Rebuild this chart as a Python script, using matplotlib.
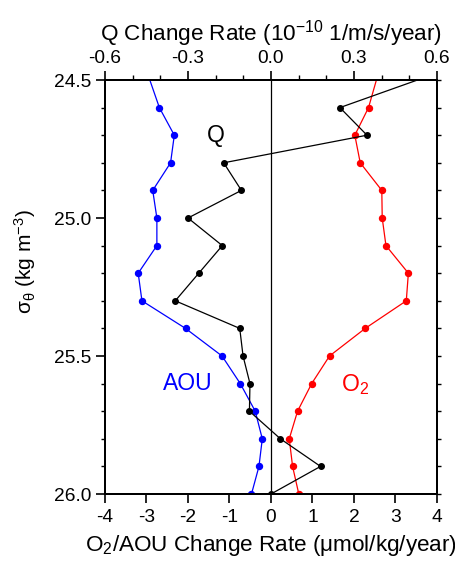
import matplotlib
matplotlib.use("Agg")
import matplotlib.pyplot as plt
import numpy as np

plt.rcParams['font.family'] = ['Liberation Sans', 'DejaVu Sans']
plt.rcParams['mathtext.fontset'] = 'custom'
plt.rcParams['mathtext.rm'] = 'Liberation Sans'
plt.rcParams['mathtext.it'] = 'Liberation Sans:italic'
plt.rcParams['mathtext.default'] = 'regular'

# sigma-theta levels (kg m-3)
sigma = [24.4, 24.6, 24.7, 24.8, 24.9, 25.0, 25.1, 25.2, 25.3, 25.4, 25.5,
         25.6, 25.7, 25.8, 25.9, 26.0]
# AOU change rate (umol/kg/year)
aou = [-3.15, -2.69, -2.33, -2.42, -2.85, -2.75, -2.75, -3.20, -3.11, -2.06,
       -1.18, -0.74, -0.38, -0.21, -0.29, -0.47]
# O2 change rate (umol/kg/year)
o2 = [2.73, 2.35, 2.02, 2.15, 2.67, 2.68, 2.77, 3.31, 3.26, 2.27, 1.41,
      0.98, 0.64, 0.44, 0.52, 0.67]
# Q change rate (1e-10 1/m/s/year)
q = [0.81, 0.249, 0.347, -0.171, -0.107, -0.300, -0.176, -0.261, -0.346,
     -0.113, -0.101, -0.076, -0.078, 0.034, 0.179, 0.0]

bottom_ticks = [-4, -3, -2, -1, 0, 1, 2, 3, 4]
top_ticks = [-0.6, -0.3, 0.0, 0.3, 0.6]
top_tick_labels = ['-0.6', '-0.3', '0.0', '0.3', '0.6']
y_ticks = [24.5, 25.0, 25.5, 26.0]
y_tick_labels = ['24.5', '25.0', '25.5', '26.0']

fig = plt.figure(figsize=(4.56, 5.62), dpi=100)
ax = fig.add_axes([105/456, 1-494/562, (437-105)/456, (494-80)/562])

ax.plot(aou, sigma, color='blue', lw=0.9, marker='o', ms=4.3, zorder=3)
ax.plot(o2, sigma, color='red', lw=0.9, marker='o', ms=4.3, zorder=3)
ax.axvline(0, color='black', lw=0.9, zorder=2)

ax.set_xlim(-4, 4)
ax.set_ylim(26.0, 24.5)
ax.set_xticks(bottom_ticks)
ax.set_xticklabels([str(t) for t in bottom_ticks])
ax.set_yticks(y_ticks)
ax.set_yticklabels(y_tick_labels)
ax.set_yticks(np.arange(24.5, 26.0001, 0.1), minor=True)
ax.tick_params(axis='both', which='major', labelsize=13.8, width=1.2, length=6.5, direction='out')
ax.tick_params(axis='y', which='major', length=6.5, pad=3.5)
ax.tick_params(axis='y', which='minor', length=3, width=1.0, direction='out')
ax.tick_params(axis='x', which='major', pad=4.5)
for s in ax.spines.values():
    s.set_linewidth(1.4)

ax.set_xlabel(r'O$_{2}$/AOU Change Rate ($\mathregular{\mu}$mol/kg/year)', fontsize=16.2, labelpad=5)

# right-side ticks
sec = ax.secondary_yaxis('right')
sec.set_yticks(np.arange(24.5, 26.0001, 0.1))
sec.set_yticklabels([])
sec.tick_params(length=3, width=1.0, direction='out')
sec.spines['right'].set_linewidth(1.4)

ax2 = ax.twiny()
ax2.plot(q, sigma, color='black', lw=0.9, marker='o', ms=4.0, zorder=4)
ax2.set_xlim(-0.6, 0.6)
ax2.set_ylim(26.0, 24.5)
ax2.set_xticks(top_ticks)
ax2.set_xticklabels(top_tick_labels)
ax2.set_xticks(np.arange(-0.6, 0.6001, 0.1), minor=True)
ax2.tick_params(axis='x', which='major', labelsize=13.8, width=1.2, length=6.5, pad=3.0)
ax2.tick_params(axis='x', which='minor', width=1.0, length=3.5)
for s in ax2.spines.values():
    s.set_linewidth(1.4)
ax2.set_xlabel(r'Q Change Rate (10$^{-10}$ 1/m/s/year)', fontsize=16.2, labelpad=7)

ax.text(-1.32, 24.70, 'Q', color='black', fontsize=16.5, ha='center', va='center', zorder=5)
ax.text(-2.0, 25.60, 'AOU', color='blue', fontsize=16.5, ha='center', va='center', zorder=5)
ax.text(2.02, 25.605, r'O$_{2}$', color='red', fontsize=16.5, ha='center', va='center', zorder=5)

fig.text(25/456, 1-262/562, r'$\sigma_{\theta}$ (kg m$^{-3}$)', rotation=90,
         fontsize=15, ha='center', va='center')

fig.savefig('out.png', dpi=100)
